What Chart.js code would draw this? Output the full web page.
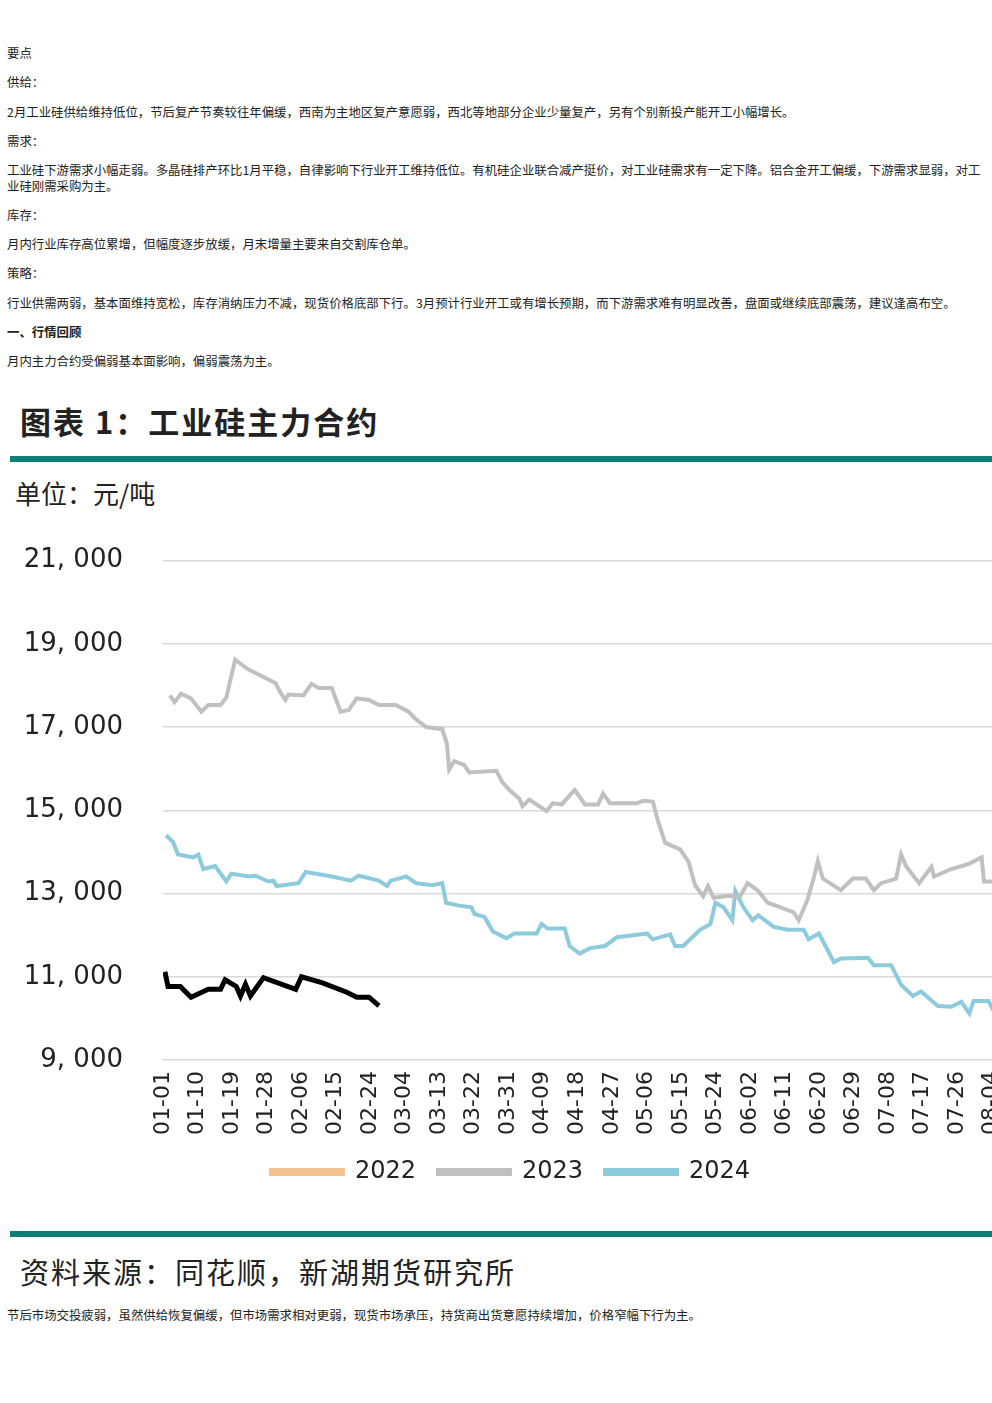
<!DOCTYPE html>
<html><head><meta charset="utf-8">
<script src="https://cdn.jsdelivr.net/npm/chart.js@4"></script>
<style>
body{margin:0;background:#fff;font-family:"Noto Sans CJK SC","Noto Sans",sans-serif;color:#222;width:992px;height:1403px;position:relative;overflow:hidden}
.p{position:absolute;left:7px;font-size:12.4px;line-height:16px;width:978px}
.bar{position:absolute;left:10px;width:982px;height:6px;background:#0a7f78}
#wrap{position:absolute;left:0;top:505px;width:1021px;height:704px}
</style></head><body>
<div class="p" style="top:45px">要点</div>
<div class="p" style="top:74px">供给：</div>
<div class="p" style="top:104px">2月工业硅供给维持低位，节后复产节奏较往年偏缓，西南为主地区复产意愿弱，西北等地部分企业少量复产，另有个别新投产能开工小幅增长。</div>
<div class="p" style="top:133px">需求：</div>
<div class="p" style="top:162px">工业硅下游需求小幅走弱。多晶硅排产环比1月平稳，自律影响下行业开工维持低位。有机硅企业联合减产挺价，对工业硅需求有一定下降。铝合金开工偏缓，下游需求显弱，对工业硅刚需采购为主。</div>
<div class="p" style="top:207px">库存：</div>
<div class="p" style="top:236px">月内行业库存高位累增，但幅度逐步放缓，月末增量主要来自交割库仓单。</div>
<div class="p" style="top:265px">策略：</div>
<div class="p" style="top:295px">行业供需两弱，基本面维持宽松，库存消纳压力不减，现货价格底部下行。3月预计行业开工或有增长预期，而下游需求难有明显改善，盘面或继续底部震荡，建议逢高布空。</div>
<div class="p" style="top:324px;font-weight:bold">一、行情回顾</div>
<div class="p" style="top:353px">月内主力合约受偏弱基本面影响，偏弱震荡为主。</div>
<div style="position:absolute;left:20px;top:398px;font-size:31px;font-weight:bold;font-family:'Noto Sans CJK SC';letter-spacing:2px">图表 1：工业硅主力合约</div>
<div class="bar" style="top:456px"></div>
<div style="position:absolute;left:15px;top:474px;font-size:26px;font-family:'Noto Sans CJK SC'">单位：元/吨</div>
<div id="wrap"><canvas id="c"></canvas></div>
<div class="bar" style="top:1231px"></div>
<div style="position:absolute;left:20px;top:1250px;font-size:29px;font-family:'Noto Sans CJK SC';letter-spacing:2px">资料来源：同花顺，新湖期货研究所</div>
<div class="p" style="top:1307px">节后市场交投疲弱，虽然供给恢复偏缓，但市场需求相对更弱，现货市场承压，持货商出货意愿持续增加，价格窄幅下行为主。</div>
<script>
// day index counted from 01-01 (leap-year calendar, as on the axis)
const days2023 = [1.8,3,4.7,7.3,10,11.8,15,16.5,18.8,22,26.7,29.3,30.6,31.9,32.7,36.6,38.7,40.6,44,46.3,48.4,50.5,53.7,56.3,60.7,64,66,68.6,72.8,74,74.6,75.9,78.5,79.8,86.9,88.5,90.3,92.9,93.7,95.5,100,101.6,103.9,107.3,110,113.4,114.7,116.5,123.6,125.1,127.7,129,130.9,134.8,137,138.7,140.8,142.1,143.5,147,150.5,152.4,155,157.6,161,164.4,165.7,168,169.6,170.7,172,176.7,179.8,183.2,185.3,187.2,191.1,192.4,193.7,197.1,200.3,201,205.5,210,213.4,214,216.5];
const vals2023 = [17760,17600,17800,17690,17370,17530,17530,17710,18620,18400,18180,18060,17830,17650,17780,17760,18040,17940,17940,17370,17410,17690,17650,17530,17530,17370,17180,17000,16950,16600,15980,16180,16090,15910,15950,15670,15490,15280,15100,15260,14980,15170,15140,15490,15140,15140,15400,15170,15170,15230,15210,14750,14220,14060,13760,13200,12940,13180,12900,12940,12940,13250,13080,12780,12670,12550,12360,12850,13360,13780,13360,13080,13360,13360,13080,13250,13360,13940,13660,13250,13640,13410,13590,13710,13870,13290,13290];
const days2024 = [0.8,2.6,3.9,7.9,9.2,10.5,13.6,16.5,17.8,22.3,24.1,27.5,28.8,29.6,35.3,37.2,44,49,51,56.3,58.4,59.4,63.4,66,70.2,72.8,73.8,77.2,80.4,81.2,83.8,86,89.5,91.6,97.4,98.7,100.3,104.7,106,108.6,111.3,115.2,118.3,126.2,127.7,132.2,133.5,135.6,140,142.7,144,146.1,148.4,149.2,151.3,153.7,155.2,159.2,162.8,167,168.3,171,174.9,176.7,183.8,185.3,189.8,192.4,195.5,197.6,202,205.5,208.1,210.2,211.3,215.2,216.5];
const vals2024 = [14400,14240,13940,13870,13940,13590,13660,13290,13480,13410,13430,13290,13310,13180,13250,13520,13410,13310,13430,13310,13180,13310,13410,13250,13200,13250,12780,12710,12670,12510,12440,12090,11930,12040,12040,12270,12160,12160,11740,11560,11690,11740,11950,12040,11900,12020,11740,11740,12130,12270,12780,12670,12360,13060,12670,12360,12480,12200,12130,12130,11900,12040,11350,11440,11460,11280,11280,10810,10540,10650,10300,10280,10400,10120,10420,10420,10190];
const days2025 = [0.5,1.3,4.5,7.3,11.8,15,16.2,19.1,20.2,21.5,22.8,26.2,34.6,36.1,41.4,47.9,50.5,53.7,56.3];
const vals2025 = [11120,10770,10770,10510,10700,10700,10930,10770,10540,10820,10540,10980,10700,11000,10860,10630,10510,10510,10300];
const yTicks = [9000,11000,13000,15000,17000,19000,21000];

const pts = (d, v) => d.map((x, i) => ({x: x, y: v[i]}));
function dayLabel(n) {
    const dt = new Date(2024, 0, 1 + n);
    return String(dt.getMonth() + 1).padStart(2, '0') + '-' + String(dt.getDate()).padStart(2, '0');
}

new Chart(document.getElementById('c'), {
    type: 'line',
    data: {
        datasets: [
            {label: '2022', data: [], borderColor: '#f4c28f', backgroundColor: '#f4c28f'},
            {label: '2023', data: pts(days2023, vals2023), borderColor: '#c0c0c0', backgroundColor: '#c0c0c0'},
            {label: '2024', data: pts(days2024, vals2024), borderColor: '#8ccbdb', backgroundColor: '#8ccbdb'},
            {label: '2025', data: pts(days2025, vals2025), borderColor: '#000', backgroundColor: '#000', borderWidth: 5}
        ]
    },
    options: {
        responsive: true, maintainAspectRatio: false, animation: false,
        layout: {padding: {top: 3, right: 0, bottom: 15}},
        elements: {point: {radius: 0}, line: {borderWidth: 4, tension: 0}},
        scales: {
            x: {
                type: 'linear', min: 0, max: 216.5,
                grid: {display: false}, border: {display: false},
                afterBuildTicks: s => { s.ticks = []; for (let d = 0; d <= 216; d += 9) s.ticks.push({value: d}); },
                ticks: {autoSkip: false, maxRotation: 90, minRotation: 90, color: '#222',
                    font: {family: 'DejaVu Sans', size: 22}, callback: v => dayLabel(v)}
            },
            y: {
                min: 9000, max: 21000,
                afterBuildTicks: s => { s.ticks = yTicks.map(v => ({value: v})); },
                afterFit: s => { s.width = 163; },
                grid: {color: '#d9d9d9', lineWidth: 1.5, drawTicks: false}, border: {display: false},
                ticks: {padding: 40, color: '#222', font: {family: 'DejaVu Sans', size: 26},
                    callback: v => v.toLocaleString('en-US').replace(',', ', ')}
            }
        },
        plugins: {
            legend: {
                position: 'bottom', align: 'center',
                labels: {boxWidth: 72, boxHeight: 4, padding: 22, color: '#222',
                    font: {family: 'DejaVu Sans', size: 24},
                    filter: item => item.text !== '2025'}
            },
            tooltip: {enabled: false}
        }
    }
});
</script>
</body></html>
